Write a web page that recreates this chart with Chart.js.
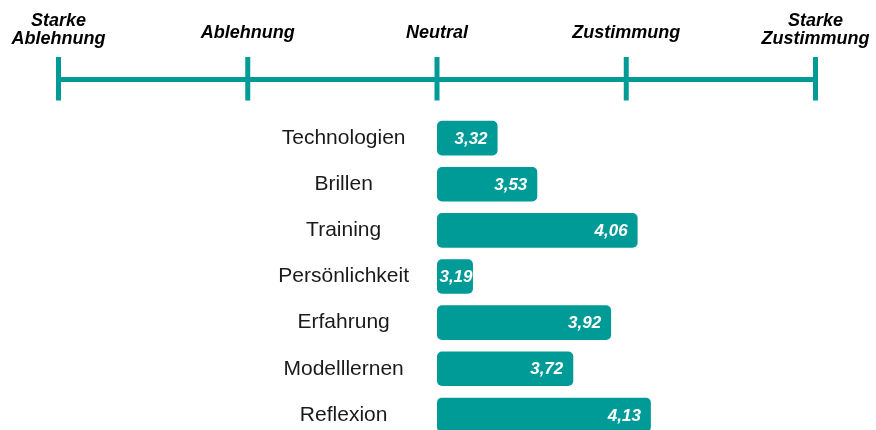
<!DOCTYPE html>
<html>
<head>
<meta charset="utf-8">
<script src="https://cdn.jsdelivr.net/npm/chart.js@4.4.1/dist/chart.umd.min.js"></script>
<style>
  html, body { margin: 0; padding: 0; background: #ffffff; overflow: hidden; }
  #c { display: block; }
</style>
</head>
<body>
<canvas id="c" width="876" height="446" style="width:876px;height:446px;"></canvas>
<script>
// ---- data ----
const categories = ['Technologien', 'Brillen', 'Training', 'Persönlichkeit', 'Erfahrung', 'Modelllernen', 'Reflexion'];
const values = [3.32, 3.53, 4.06, 3.19, 3.92, 3.72, 4.13];
const neutralValue = 3;
const scaleValues = [1, 2, 3, 4, 5];
const scaleLabels = [['Starke', 'Ablehnung'], ['Ablehnung'], ['Neutral'], ['Zustimmung'], ['Starke', 'Zustimmung']];

const TEAL = '#009b97';
const FONT = '"Liberation Sans", Arial, Helvetica, sans-serif';

const likertScale = {
  id: 'likertScale',
  afterDraw(chart) {
    const ctx = chart.ctx;
    const xs = chart.scales.x;
    const px = scaleValues.map(v => xs.getPixelForValue(v));
    const lineY = 79.5;
    ctx.save();
    ctx.strokeStyle = TEAL;
    ctx.lineWidth = 5;
    ctx.lineCap = 'butt';
    ctx.beginPath();
    ctx.moveTo(px[0], lineY);
    ctx.lineTo(px[px.length - 1], lineY);
    ctx.stroke();
    px.forEach(x => {
      ctx.beginPath();
      ctx.moveTo(x, 57);
      ctx.lineTo(x, 100.5);
      ctx.stroke();
    });
    ctx.fillStyle = '#000000';
    ctx.font = 'italic bold 18px ' + FONT;
    ctx.textAlign = 'center';
    ctx.textBaseline = 'alphabetic';
    scaleLabels.forEach((lines, i) => {
      if (lines.length === 2) {
        ctx.fillText(lines[0], px[i], 26);
        ctx.fillText(lines[1], px[i], 43.5);
      } else {
        ctx.fillText(lines[0], px[i], 37.5);
      }
    });
    ctx.restore();
  }
};

const valueLabels = {
  id: 'valueLabels',
  afterDatasetsDraw(chart) {
    const ctx = chart.ctx;
    const meta = chart.getDatasetMeta(0);
    ctx.save();
    ctx.fillStyle = '#ffffff';
    ctx.font = 'italic bold 17px ' + FONT;
    ctx.textBaseline = 'middle';
    meta.data.forEach((bar, i) => {
      const txt = values[i].toFixed(2).replace('.', ',');
      const w = ctx.measureText(txt).width;
      const left = Math.min(bar.x, bar.base);
      const right = Math.max(bar.x, bar.base);
      if (right - left < w + 16) {
        ctx.textAlign = 'center';
        ctx.fillText(txt, (left + right) / 2 + 1, bar.y + 1);
      } else {
        ctx.textAlign = 'right';
        ctx.fillText(txt, right - 10, bar.y + 1);
      }
    });
    ctx.restore();
  }
};

new Chart(document.getElementById('c'), {
  type: 'bar',
  data: {
    labels: categories,
    datasets: [{
      data: values.map(v => [neutralValue, v]),
      backgroundColor: TEAL,
      borderWidth: 0,
      borderRadius: 5,
      borderSkipped: false,
      barPercentage: 0.75,
      categoryPercentage: 1
    }]
  },
  options: {
    indexAxis: 'y',
    responsive: false,
    maintainAspectRatio: false,
    animation: false,
    devicePixelRatio: 1,
    layout: { padding: { top: 115, bottom: 8, left: 0, right: 60.5 } },
    plugins: { legend: { display: false }, tooltip: { enabled: false } },
    scales: {
      x: {
        type: 'linear',
        min: 3,
        max: 5,
        display: false
      },
      y: {
        position: 'left',
        grid: { display: false, drawTicks: false },
        border: { display: false },
        ticks: {
          crossAlign: 'center',
          padding: 28,
          color: '#1a1a1a',
          font: { family: FONT, size: 21 }
        },
        afterFit(scale) {
          scale.width = 437;
          scale.paddingTop = 0;
          scale.paddingBottom = 0;
        }
      }
    }
  },
  plugins: [likertScale, valueLabels]
});
</script>
</body>
</html>
